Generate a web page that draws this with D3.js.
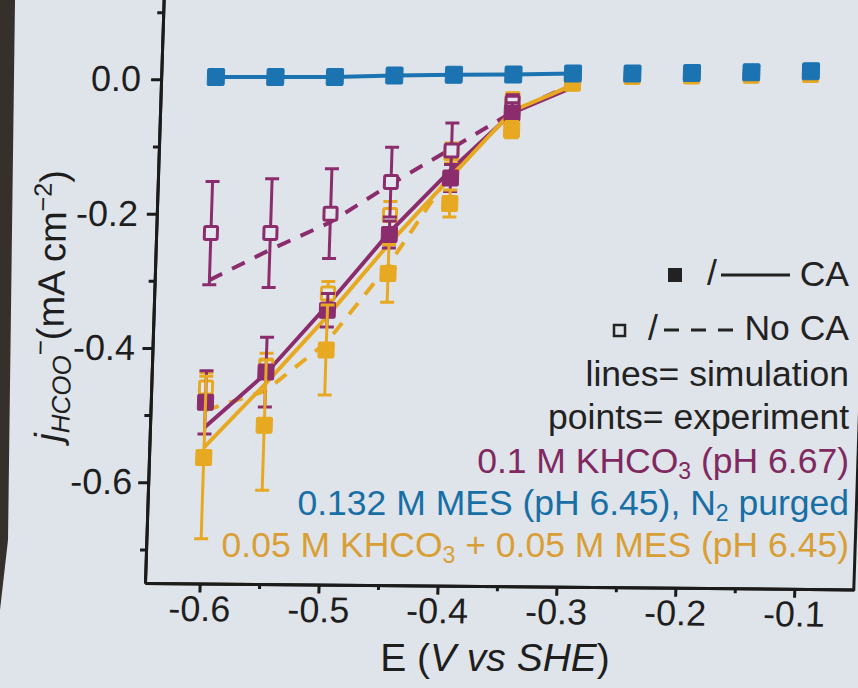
<!DOCTYPE html>
<html>
<head>
<meta charset="utf-8">
<title>Formate partial current density vs potential</title>
<script src="https://d3js.org/d3.v7.min.js"></script>
<style>
  body { margin: 0; background: #dfe4ea; }
  svg { display: block; font-family: "Liberation Sans", Arial, sans-serif; }
  .axis path, .axis line { stroke: #1b1b1b; stroke-width: 3px; }
  .axis text { font-size: 36px; fill: #1e1e1e; }
  .legend text { font-size: 35.5px; }
</style>
</head>
<body>
<svg width="858" height="688"></svg>
<script>
// potentials (V vs SHE)
const potentials = [-0.6, -0.55, -0.5, -0.45, -0.4, -0.35, -0.3, -0.25, -0.2, -0.15, -0.1];
const simPotentials = potentials.slice(0, 7);

// simulation lines, j HCOO- (mA cm-2)
const simKhco3CA   = [-0.518, -0.438, -0.336, -0.228, -0.135, -0.050, -0.012];
const simKhco3NoCA = [-0.299, -0.254, -0.213, -0.156, -0.103, -0.049, -0.007];
const simMixCA     = [-0.548, -0.453, -0.353, -0.245, -0.146, -0.047, -0.009];
const simMixNoCA   = [-0.493, -0.464, -0.392, -0.277, -0.140, -0.050, -0.008];
const simMesCA     = [0.0034, 0.0034, 0.0034, 0.0055, 0.0067, 0.0070, 0.0085];

// experiments, with error bars
const expKhco3CA       = [-0.481, -0.436, -0.344, -0.231, -0.147, -0.050, -0.004, 0.007, 0.008, 0.009, 0.011];
const expKhco3CAErr    = [0.047, 0.052, 0.025, 0.020, 0.020, 0.015, 0.008, 0.006, 0.006, 0.006, 0.006];
const expKhco3NoCA     = [-0.229, -0.229, -0.200, -0.153, -0.106, -0.035, -0.005];
const expKhco3NoCAErr  = [0.077, 0.081, 0.067, 0.052, 0.041, 0.012, 0.005];
const expMixCA         = [-0.563, -0.515, -0.403, -0.289, -0.185, -0.075, -0.006, 0.004, 0.005, 0.006, 0.007];
const expMixCAErr      = [0.121, 0.097, 0.067, 0.043, 0.020, 0.012, 0.006, 0.003, 0.003, 0.003, 0.003];
const expMixNoCA       = [-0.459, -0.426, -0.319, -0.202, -0.110, -0.030, -0.003];
const expMixNoCAErr    = [0.022, 0.018, 0.018, 0.020, 0.015, 0.010, 0.005];
const expMesCA         = [0.0034, 0.0034, 0.0034, 0.0055, 0.0067, 0.0070, 0.0085, 0.0085, 0.0094, 0.0104, 0.0119];

const xMajor = [-0.6, -0.5, -0.4, -0.3, -0.2, -0.1];
const xMinor = [-0.55, -0.45, -0.35, -0.25, -0.15];
const yMajor = [-0.6, -0.4, -0.2, 0.0];
const yMinor = [-0.7, -0.5, -0.3, -0.1, 0.1];

const purple = "#8b2c6c", blue = "#1b73b1", gold = "#e7a922";

const svg = d3.select("svg");
const W = 858, H = 688;
const left = 145, right = 854, bottom = 583;

svg.append("rect").attr("width", W).attr("height", H).attr("fill", "#dfe4ea");
// dark edge of the projector screen
svg.append("path").attr("d", "M0,0L15,0L8,540L0,610Z").attr("fill", "#36302d");

const x = d3.scaleLinear().domain([-0.646, -0.05]).range([left, right]);
const y = d3.scaleLinear().domain([-0.75, 0.13]).range([bottom, -8]);

// the photo is slightly slanted, so skew the plot
const skew = k => `translate(0,${bottom}) skewX(${-Math.atan(k) * 180 / Math.PI}) translate(0,${-bottom})`;
const plot = svg.append("g").attr("transform", skew(0.032));
const fmt = d => d3.format(".1f")(d).replace("−", "-");
const slope = 0.009; // bottom edge drops a little to the right
const xAxisPos = `translate(${left},${bottom}) skewY(${Math.atan(slope) * 180 / Math.PI}) translate(${-left},0)`;

// axes
plot.append("g").attr("class", "axis")
  .attr("transform", xAxisPos)
  .call(d3.axisBottom(x).tickValues(xMinor).tickSize(5).tickSizeOuter(0).tickFormat(""));
plot.append("g").attr("class", "axis")
  .attr("transform", xAxisPos)
  .call(d3.axisBottom(x).tickValues(xMajor).tickSize(9).tickSizeOuter(0).tickPadding(3).tickFormat(fmt));
plot.append("g").attr("class", "axis")
  .attr("transform", `translate(${left},0)`)
  .call(d3.axisLeft(y).tickValues(yMinor).tickSize(6).tickSizeOuter(0).tickFormat(""));
plot.append("g").attr("class", "axis")
  .attr("transform", `translate(${left},0)`)
  .call(d3.axisLeft(y).tickValues(yMajor).tickSize(10).tickSizeOuter(0).tickFormat(""));
plot.append("line").attr("x1", right).attr("x2", right)
  .attr("y1", bottom + slope * (right - left) + 1.5).attr("y2", -20)
  .attr("stroke", "#1b1b1b").attr("stroke-width", 3);

// simulation lines
const sims = [
  { v: simKhco3NoCA, color: purple, dash: "14,11" },
  { v: simMixNoCA, color: gold, dash: "14,11" },
  { v: simKhco3CA, color: purple, dash: null },
  { v: simMixCA, color: gold, dash: null }
];
const line = d3.line().x(d => x(d[0])).y(d => y(d[1]));
sims.forEach(s => {
  plot.append("path")
    .datum(simPotentials.map((p, i) => [p, s.v[i]]))
    .attr("d", line)
    .attr("fill", "none")
    .attr("stroke", s.color)
    .attr("stroke-width", 4)
    .attr("stroke-dasharray", s.dash);
});

// experimental points with error bars
function points(vals, errs, color, filled, size) {
  const data = vals.map((v, i) => ({ e: potentials[i], v: v, err: errs ? errs[i] : 0 }));
  const g = plot.append("g");
  if (errs) {
    const bars = g.selectAll(".bar").data(data).enter().append("g")
      .attr("stroke", color).attr("stroke-width", 3);
    bars.append("line")
      .attr("x1", d => x(d.e)).attr("x2", d => x(d.e))
      .attr("y1", d => y(d.v - d.err)).attr("y2", d => y(d.v + d.err));
    [1, -1].forEach(s => {
      bars.append("line")
        .attr("x1", d => x(d.e) - 7).attr("x2", d => x(d.e) + 7)
        .attr("y1", d => y(d.v + s * d.err)).attr("y2", d => y(d.v + s * d.err));
    });
  }
  g.selectAll("rect").data(data).enter().append("rect")
    .attr("x", d => x(d.e) - size / 2)
    .attr("y", d => y(d.v) - size / 2)
    .attr("width", size).attr("height", size)
    .attr("rx", 1.5)
    .attr("fill", filled ? color : "#e4e8ee")
    .attr("stroke", color)
    .attr("stroke-width", filled ? 1 : 3);
}
points(expMixNoCA, expMixNoCAErr, gold, false, 13);
points(expKhco3NoCA, expKhco3NoCAErr, purple, false, 13);
points(expKhco3CA, expKhco3CAErr, purple, true, 16);
points(expMixCA, expMixCAErr, gold, true, 16);

plot.append("path")
  .datum(simPotentials.map((p, i) => [p, simMesCA[i]]))
  .attr("d", line)
  .attr("fill", "none")
  .attr("stroke", blue)
  .attr("stroke-width", 4);
points(expMesCA, null, blue, true, 17);

// y tick labels and title (less slanted in the photo)
const lab = svg.append("g").attr("transform", skew(0.022));
lab.append("g").attr("class", "axis")
  .attr("transform", "translate(130,0)")
  .call(d3.axisLeft(y).tickValues(yMajor).tickSize(0).tickPadding(0).tickFormat(fmt))
  .call(g => g.select(".domain").remove());

const yTitle = lab.append("text")
  .attr("transform", "translate(58,306) rotate(-90)")
  .attr("text-anchor", "middle")
  .attr("font-size", 38)
  .attr("fill", "#1e1e1e");
yTitle.append("tspan").attr("font-style", "italic").text("j");
yTitle.append("tspan").attr("font-style", "italic").attr("font-size", 26).attr("dy", 8).text("HCOO");
yTitle.append("tspan").attr("font-size", 26).attr("dy", -22).text("−");
yTitle.append("tspan").attr("dy", 14).text("(mA cm");
yTitle.append("tspan").attr("font-size", 25).attr("dy", -15).text("−2");
yTitle.append("tspan").attr("dy", 15).text(")");

// x title
const xTitle = svg.append("text")
  .attr("x", 495).attr("y", 671)
  .attr("text-anchor", "middle")
  .attr("font-size", 39)
  .attr("fill", "#1e1e1e");
xTitle.append("tspan").text("E (");
xTitle.append("tspan").attr("font-style", "italic").text("V vs SHE");
xTitle.append("tspan").text(")");

// legend
const legend = svg.append("g").attr("class", "legend");
const lx = 849;
legend.append("rect").attr("x", 668).attr("y", 268).attr("width", 14).attr("height", 14).attr("fill", "#222");
legend.append("text").attr("x", 707).attr("y", 285).attr("font-size", 27).attr("fill", "#222").text("/");
legend.append("line").attr("x1", 721).attr("x2", 790).attr("y1", 275).attr("y2", 275)
  .attr("stroke", "#222").attr("stroke-width", 3);
legend.append("text").attr("x", lx).attr("y", 286).attr("text-anchor", "end").attr("fill", "#222").text("CA");

legend.append("rect").attr("x", 614).attr("y", 325).attr("width", 11).attr("height", 11)
  .attr("fill", "none").attr("stroke", "#222").attr("stroke-width", 2.5);
legend.append("text").attr("x", 648).attr("y", 340).attr("font-size", 27).attr("fill", "#222").text("/");
legend.append("line").attr("x1", 664).attr("x2", 734).attr("y1", 330).attr("y2", 330)
  .attr("stroke", "#222").attr("stroke-width", 3).attr("stroke-dasharray", "15,12");
legend.append("text").attr("x", lx).attr("y", 340).attr("text-anchor", "end").attr("fill", "#222").text("No CA");

legend.append("text").attr("x", lx).attr("y", 386).attr("text-anchor", "end").attr("fill", "#222").text("lines= simulation");
legend.append("text").attr("x", lx).attr("y", 429).attr("text-anchor", "end").attr("fill", "#222").text("points= experiment");

function sub(t, parts, color) {
  parts.forEach(p => {
    const s = t.append("tspan").text(p[0]);
    if (p[1] === "sub") s.attr("font-size", 23).attr("dy", 6);
    if (p[1] === "up") s.attr("dy", -6);
  });
  t.attr("fill", color);
}
sub(legend.append("text").attr("x", lx).attr("y", 473).attr("text-anchor", "end"),
  [["0.1 M KHCO"], ["3", "sub"], [" (pH 6.67)", "up"]], "#7f2960");
sub(legend.append("text").attr("x", lx).attr("y", 515).attr("text-anchor", "end"),
  [["0.132 M MES (pH 6.45), N"], ["2", "sub"], [" purged", "up"]], "#176fa6");
sub(legend.append("text").attr("x", lx).attr("y", 557).attr("text-anchor", "end"),
  [["0.05 M KHCO"], ["3", "sub"], [" + 0.05 M MES (pH 6.45)", "up"]], "#d99f36");
</script>
</body>
</html>
